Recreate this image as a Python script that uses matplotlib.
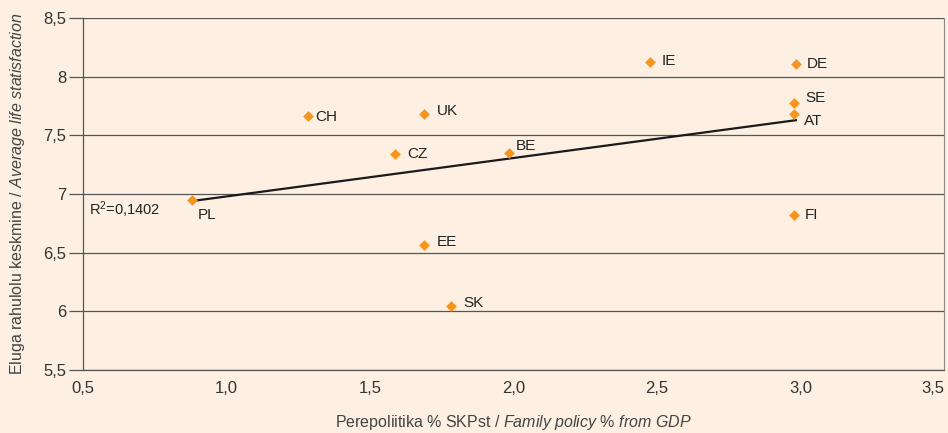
import matplotlib.pyplot as plt
import numpy as np

# Country values
countries = ["PL", "CH", "CZ", "UK", "EE", "SK", "BE", "IE", "DE", "SE", "AT", "FI"]
family_policy = [0.88, 1.284, 1.587, 1.688, 1.688, 1.782, 1.984, 2.476, 2.984, 2.977, 2.977, 2.977]
life_satisfaction = [6.95, 7.665, 7.34, 7.68, 6.565, 6.045, 7.35, 8.125, 8.108, 7.775, 7.68, 6.82]
x_ticks = [0.5, 1.0, 1.5, 2.0, 2.5, 3.0, 3.5]
y_ticks = [5.5, 6, 6.5, 7, 7.5, 8, 8.5]

# label offsets in points (dx, dy)
offsets = {"PL": (4, -11), "CH": (5, -1), "CZ": (9, 0), "UK": (9, 2), "EE": (9, 2),
           "SK": (9, 2), "BE": (5, 5), "IE": (8, 1), "DE": (8, 0), "SE": (8, 4),
           "AT": (7, -5), "FI": (8, 0)}

bg = '#FDF0E2'
plt.rcParams['font.family'] = ['Liberation Sans', 'DejaVu Sans']
plt.rcParams['mathtext.fontset'] = 'custom'
plt.rcParams['mathtext.rm'] = 'Liberation Sans'
plt.rcParams['mathtext.it'] = 'Liberation Sans:italic'

fig = plt.figure(figsize=(9.48, 4.33), dpi=100, facecolor=bg)
ax = fig.add_axes([0.0876, 0.1455, 0.9082, 0.8129])
ax.set_facecolor(bg)

# trend line
k, b = np.polyfit(family_policy, life_satisfaction, 1)
xs = np.array([min(family_policy), max(family_policy)])
ax.plot(xs, k * xs + b, color='#1a1a1a', lw=1.6, zorder=2)

ax.scatter(family_policy, life_satisfaction, marker='D', s=30, color='#F7941D', zorder=3, linewidths=0)
for name, xv, yv in zip(countries, family_policy, life_satisfaction):
    ax.annotate(name, (xv, yv), xytext=offsets[name], textcoords='offset points',
                ha='left', va='center', fontsize=11, color='#222222')

ax.text(0.52, 6.87, 'R$^{2}$=0,1402', fontsize=10.5, color='#222222', va='center')

ax.set_xlim(0.5, 3.5)
ax.set_ylim(5.5, 8.5)
ax.set_xticks(x_ticks)
ax.set_xticklabels([f'{t:.1f}'.replace('.', ',') for t in x_ticks])
ax.set_yticks(y_ticks)
ax.set_yticklabels([f'{t:g}'.replace('.', ',') for t in y_ticks])
ax.get_xticklabels()[-1].set_ha('right')
ax.get_xticklabels()[-1].set_x(3.5)
ax.grid(axis='y', color='#555555', lw=0.9)
ax.set_axisbelow(True)
ax.tick_params(axis='x', length=0, pad=8, labelsize=12, colors='#333333')
ax.tick_params(axis='y', length=10, width=0.9, color='#555555', labelsize=12, labelcolor='#333333', pad=2)
for s in ['left', 'bottom']:
    ax.spines[s].set_color('#555555')
    ax.spines[s].set_linewidth(0.9)
ax.spines['right'].set_color('#8a8a8a')
ax.spines['top'].set_visible(False)

ax.set_xlabel('Perepoliitika % SKPst / $\\it{Family\\ policy\\ \\%\\ from\\ GDP}$',
              fontsize=11.5, color='#444444', labelpad=12)
ax.set_ylabel('Eluga rahulolu keskmine / $\\it{Average\\ life\\ statisfaction}$',
              fontsize=11.5, color='#444444', labelpad=12)

plt.savefig('out.png', dpi=100, facecolor=bg)
